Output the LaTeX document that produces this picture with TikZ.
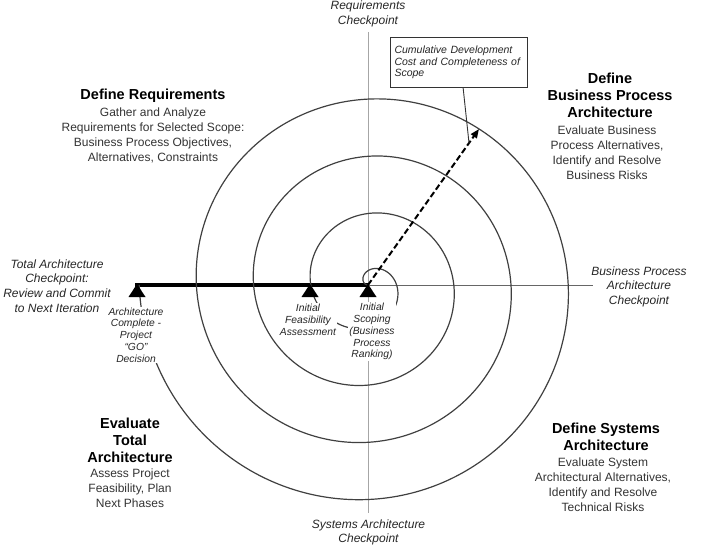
\documentclass[tikz,border=0pt]{standalone}
\usepackage{fontspec}
\setmainfont{Liberation Sans}
\usetikzlibrary{arrows.meta,calc}
\begin{document}
\begin{tikzpicture}[x=1pt,y=-1pt,
  axisv/.style={draw=black!35, line width=1pt},
  axish/.style={draw=black!60, line width=1pt},
  spiralline/.style={draw=black!75, line width=1.2pt},
  thickline/.style={draw=black, line width=4pt},
  title/.style={font=\bfseries\fontsize{14.5}{17}\selectfont, align=center, text=black, inner sep=0pt},
  desc/.style={font=\fontsize{12}{15}\selectfont, align=center, text=black!80, inner sep=0pt},
  chk/.style={font=\itshape\fontsize{12}{14.7}\selectfont, align=center, text=black!85, inner sep=0pt},
  small/.style={font=\itshape\fontsize{10.3}{11.7}\selectfont, align=center, text=black!85, fill=white, inner sep=1pt},
  marker/.style={fill=black},
  callout/.style={draw=black!80, line width=1pt, fill=white, anchor=north west, minimum width=137pt, minimum height=50pt, text width=129pt, align=left, inner sep=4pt, font=\itshape\fontsize{10.5}{11.7}\selectfont, text=black!85},
]
\useasboundingbox (0,0) rectangle (715,548);
% reference points
\coordinate (c) at (368,285);
\coordinate (vtop) at (368,32);
\coordinate (vbot) at (368,513);
\coordinate (hl) at (135,285);
\coordinate (hr) at (593,285);
\coordinate (tip) at (479,129);
\coordinate (lead) at ($(c)!0.91!(tip)$);
% axes
\draw[axisv] (vtop) -- (vbot);
\draw[axish] (hl) -- (hr);
\draw[thickline] (hl) -- (c);
% spiral
\draw[spiralline] plot[domain=-1260:180, samples=721, smooth, variable=\t]
  ({368+0.15889*(180-\t)*cos(\t)}, {285-0.15889*(180-\t)*sin(\t)});
% dashed cost arrow
\draw[line width=2pt, dash pattern=on 6pt off 3pt, -{Triangle[length=9pt,width=7pt]}] (c) -- (tip);
% callout
\node[callout] (box) at (390,37) {Cumulative Development\\Cost and Completeness of\\Scope};
\draw[black!80, line width=0.9pt] ($(box.south west)!0.53!(box.south east)$) -- (lead);
% milestone triangles
\fill[marker] (137,284) -- (128.5,297) -- (145.5,297) -- cycle;
\fill[marker] (310,284) -- (301.5,297) -- (318.5,297) -- cycle;
\fill[marker] (368,284) -- (359.5,297) -- (376.5,297) -- cycle;
% small labels
\node[small] (ac) at (136,335) {Architecture\\Complete -\\Project\\\textquotedblleft GO\textquotedblright\\Decision};
\node[small] (fa) at (308,319.7) {Initial\\Feasibility\\Assessment};
\node[small] (is) at (372,331.7) {Initial\\Scoping\\(Business\\Process\\Ranking)};
% checkpoints
\node[chk] (rc) at (368,14.2) {Requirements\\Checkpoint};
\node[chk] (bc) at (639,286.7) {Business Process\\Architecture\\Checkpoint};
\node[chk] (sc) at (368.5,532.5) {Systems Architecture\\Checkpoint};
\node[chk] (tc) at (57,286) {Total Architecture\\Checkpoint:\\Review and Commit\\to Next Iteration};
% quadrant texts
\node[title] (t1) at (153,95.5) {Define Requirements};
\node[desc] (d1) at (153,135.5) {Gather and Analyze\\Requirements for Selected Scope:\\Business Process Objectives,\\Alternatives, Constraints};
\node[title] (t2) at (610,95) {Define\\Business Process\\Architecture};
\node[desc] (d2) at (607,152.5) {Evaluate Business\\Process Alternatives,\\Identify and Resolve\\Business Risks};
\node[title] (t3) at (606,436.5) {Define Systems\\Architecture};
\node[desc] (d3) at (603,484.5) {Evaluate System\\Architectural Alternatives,\\Identify and Resolve\\Technical Risks};
\node[title] (t4) at (130,440) {Evaluate\\Total\\Architecture};
\node[desc] (d4) at (130,488.5) {Assess Project\\Feasibility, Plan\\Next Phases};
\end{tikzpicture}
\end{document}
